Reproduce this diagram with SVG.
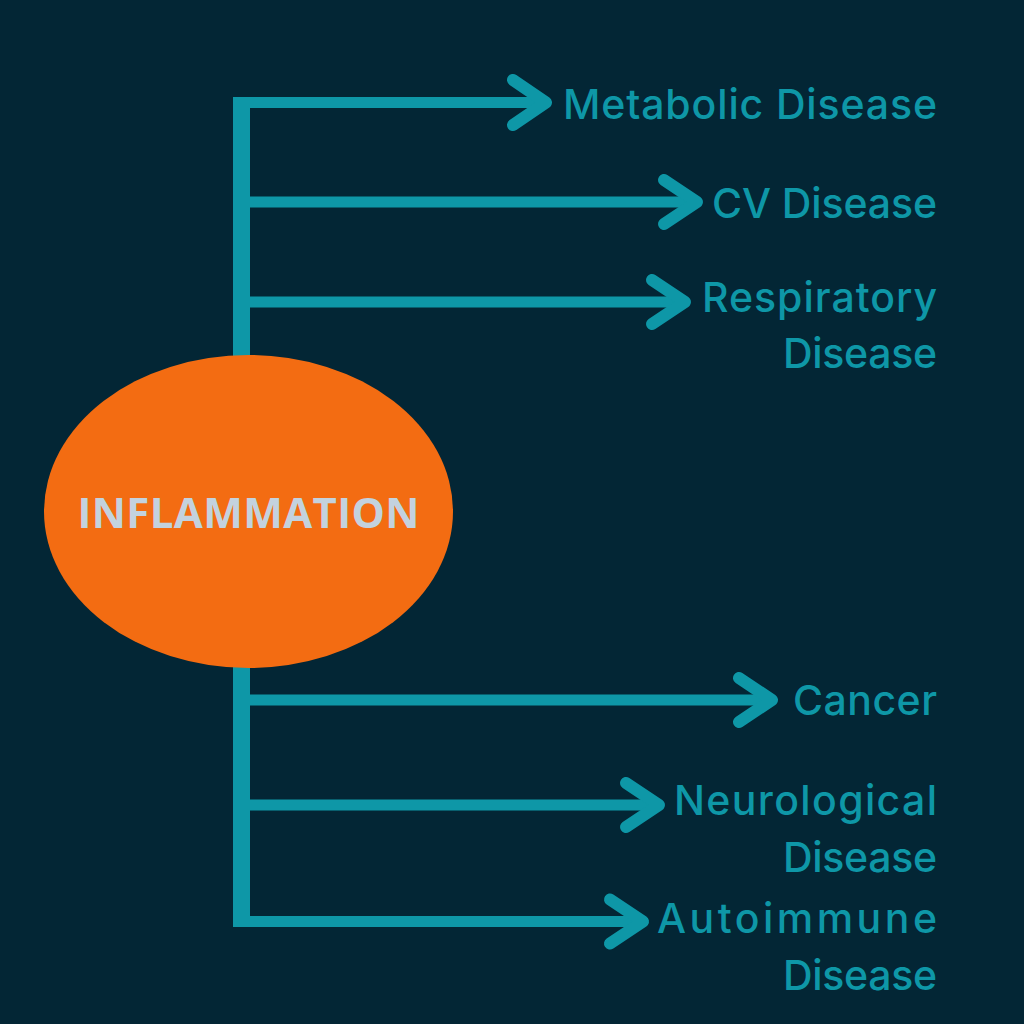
<svg xmlns="http://www.w3.org/2000/svg" width="1024" height="1024" viewBox="0 0 1024 1024">
<defs>
<style>
.bg{fill:#032635}
.ln{stroke:#0E97A7;stroke-width:11;fill:none;stroke-linecap:butt}
.ah{stroke:#0E97A7;stroke-width:12;fill:none;stroke-linecap:round;stroke-linejoin:round}
.lbl{font-family:Inter,"Open Sans","Liberation Sans",sans-serif;font-size:41px;font-weight:500;fill:#0E97A7;text-anchor:end}
.core{font-family:"Open Sans","Liberation Sans",sans-serif;font-size:42px;font-weight:700;fill:#C3D2DE;text-anchor:middle}
</style>
</defs>
<rect class="bg" x="0" y="0" width="1024" height="1024"/>
<g id="connectors">
<line class="ln" x1="241.5" y1="97" x2="241.5" y2="927" style="stroke-width:17"/>
<line class="ln" x1="233" y1="102.5" x2="546" y2="102.5"/>
<polyline class="ah" points="513,80 546,102.5 513,125"/>
<line class="ln" x1="233" y1="202" x2="697" y2="202"/>
<polyline class="ah" points="664,180 697,202 664,224"/>
<line class="ln" x1="233" y1="302" x2="685" y2="302"/>
<polyline class="ah" points="652,280 685,302 652,324"/>
<line class="ln" x1="233" y1="700" x2="772" y2="700"/>
<polyline class="ah" points="739,678 772,700 739,722"/>
<line class="ln" x1="233" y1="805" x2="659" y2="805"/>
<polyline class="ah" points="626,783 659,805 626,827"/>
<line class="ln" x1="233" y1="921.5" x2="643" y2="921.5"/>
<polyline class="ah" points="610,899.5 643,921.5 610,943.5"/>
</g>
<g id="inflammation">
<ellipse cx="248.5" cy="511.5" rx="204.5" ry="156.5" fill="#F36C12"/>
<text class="core" x="248.5" y="528" textLength="342">INFLAMMATION</text>
</g>
<g id="metabolic"><text class="lbl" x="937" y="119" textLength="374">Metabolic Disease</text></g>
<g id="cv"><text class="lbl" x="937" y="218" textLength="225">CV Disease</text></g>
<g id="respiratory"><text class="lbl" x="937" y="312" textLength="235">Respiratory</text><text class="lbl" x="937" y="368" textLength="154">Disease</text></g>
<g id="cancer"><text class="lbl" x="937" y="715" textLength="144">Cancer</text></g>
<g id="neurological"><text class="lbl" x="937" y="815" textLength="263">Neurological</text><text class="lbl" x="937" y="872" textLength="154">Disease</text></g>
<g id="autoimmune"><text class="lbl" x="937" y="933" textLength="280">Autoimmune</text><text class="lbl" x="937" y="990" textLength="154">Disease</text></g>
</svg>
